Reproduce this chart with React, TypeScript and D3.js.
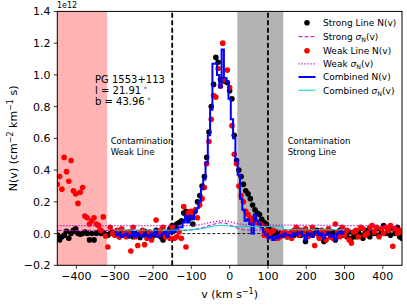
import React from "react";
import * as d3 from "d3";

// velocity grid (km/s) shared by both line measurements
const velocity = [
  -450, -444, -438, -432, -426, -420, -414, -408, -402, -396, -390, -384, -378, -372, -366,
  -360, -354, -348, -342, -336, -330, -324, -318, -312, -306, -300, -294, -288, -282, -276,
  -270, -264, -258, -252, -246, -240, -234, -228, -222, -216, -210, -204, -198, -192, -186,
  -180, -174, -168, -162, -156, -150, -144, -138, -132, -126, -120, -114, -108, -102, -96,
  -90, -84, -78, -72, -66, -60, -54, -48, -42, -36, -30, -24, -18, -12, -6,
  0, 6, 12, 18, 24, 30, 36, 42, 48, 54, 60, 66, 72, 78, 84,
  90, 96, 102, 108, 114, 120, 126, 132, 138, 144, 150, 156, 162, 168, 174,
  180, 186, 192, 198, 204, 210, 216, 222, 228, 234, 240, 246, 252, 258, 264,
  270, 276, 282, 288, 294, 300, 306, 312, 318, 324, 330, 336, 342, 348, 354,
  360, 366, 372, 378, 384, 390, 396, 402, 408, 414, 420, 426, 432, 438, 444,
  450,
];

// N(v) in units of 1e12
const strongN = [
  -0.01, -0.04, -0.02, -0.01, 0.015, -0.03, 0.0, 0.02, 0.03, 0.0, -0.005, 0.0, 0.01, 0.0, -0.04,
  0.0, -0.04, 0.0, 0.01, 0.0, 0.005, -0.005,
  -0.01, 0.0, 0.01, -0.005, 0.0, -0.02, 0.005, -0.01, 0.0, -0.015, 0.01, -0.02, 0.0, -0.01,
  -0.025, 0.0, 0.015, -0.01, 0.0, -0.03, -0.01, 0.02, 0.0, -0.02, -0.04, 0.0, 0.01, 0.03, 0.05,
  0.04, 0.06, 0.07, 0.08, 0.13, 0.14, 0.09, 0.1, 0.06, 0.14, 0.2, 0.24, 0.3, 0.36, 0.48,
  0.64, 0.8, 0.94, 1.11, 1.08, 0.97, 0.97, 0.96, 0.95, 0.9,
  0.85, 0.62, 0.46, 0.4, 0.36, 0.31, 0.27, 0.25, 0.22, 0.18, 0.15, 0.13, 0.12, 0.09, 0.07,
  0.06, 0.03,
  0.02, 0.0, 0.01, -0.02, 0.0, -0.01, 0.01, -0.02, 0.0, 0.01, -0.01, 0.0, 0.02, -0.01, 0.0,
  -0.05, 0.0, 0.01, -0.01, 0.0, 0.02, -0.02, 0.0, -0.05, 0.01, 0.0, -0.02, 0.01, -0.04, 0.0,
  0.02, -0.01, 0.0, -0.02, 0.01, -0.03, 0.0, -0.02, 0.01, -0.01, -0.03, 0.0, 0.02, -0.02, 0.01,
  0.0, 0.03, -0.01, 0.02, 0.05, 0.0, 0.02, -0.01, 0.03, 0.0, 0.04, -0.02, -0.03,
];

const weakN = [
  0.31, 0.36, 0.28, 0.48, 0.39, 0.33, 0.46, 0.27, 0.25, 0.19, 0.26, 0.29, 0.11, 0.1, 0.06,
  0.08, 0.1, 0.06, 0.05, 0.02, 0.105, -0.015,
  -0.085, 0.04, 0.0, -0.01, 0.02, -0.02, 0.03, 0.0, -0.02, 0.01, -0.11, 0.04, -0.02, -0.075,
  0.0, 0.02, -0.07, -0.03, 0.01, -0.04, 0.0, 0.085, -0.01, 0.02, 0.04, -0.02, 0.0, -0.03, 0.04,
  -0.03, -0.02, 0.01, -0.03, 0.17, -0.085, 0.13, 0.14, 0.12, 0.15, 0.1, 0.18, 0.22, 0.29, 0.44,
  0.58, 0.72, 0.87, 0.86, 1.04, 0.93, 1.2, 0.97, 1.03, 0.92,
  0.68, 0.5, 0.44, 0.3, 0.24, 0.2, 0.14, 0.12, 0.1, 0.08, 0.09, 0.07, 0.06, 0.05, -0.01,
  0.02, -0.02,
  0.01, 0.02, -0.03, -0.03, -0.02, 0.0, 0.01, -0.02, 0.0, -0.03,
  0.02, 0.04, -0.01, 0.02, 0.0, 0.03, -0.02, 0.01, 0.04, -0.075,
  0.0, -0.03, 0.02, 0.01, -0.04, 0.03, -0.02, -0.03, 0.06, 0.01,
  -0.02, 0.04, -0.01, 0.02, -0.04, -0.06, 0.01, 0.02, -0.02, 0.04,
  0.03, -0.01, 0.0, 0.04, 0.05, 0.01, 0.04, -0.02, 0.03, 0.0,
  0.04, 0.02, 0.05, -0.08, 0.03, 0.0, 0.02, 0.01,
];

// combined profile, velocity -300 .. 300
const combinedV = velocity.slice(25, 126);
const combinedN = [
  0.01, -0.01, 0.0, -0.02, -0.01, 0.0, -0.02, -0.01, 0.01, -0.02, 0.0, -0.01, -0.02, 0.0, -0.015,
  -0.025, 0.0, -0.01, 0.01, -0.02, -0.01, 0.0, 0.01, -0.02, 0.0, 0.02,
  0.01, 0.03, 0.04, 0.04, 0.07, 0.11, 0.07, 0.11, 0.09, 0.14, 0.16, 0.2, 0.28, 0.34, 0.45,
  0.62, 0.78, 1.07, 1.07, 1.0, 0.92, 1.16, 0.98, 0.96, 0.85,
  0.72, 0.6, 0.46, 0.37, 0.22, 0.15, 0.08, 0.09, 0.06, 0.0, 0.12, 0.08, 0.06, 0.04, 0.01,
  -0.01, -0.03,
  -0.02, -0.04, -0.02, -0.03, -0.01, -0.02, 0.0, -0.01, -0.01, -0.02,
  0.0, -0.01, 0.0, 0.01, -0.01, -0.04, -0.01, 0.0, -0.02, 0.0,
  0.01, -0.01, 0.0, -0.03, -0.01, 0.0, -0.02, -0.01, -0.04, 0.0,
  0.01, 0.0, 0.01,
];

// error curves
const strongSigmaV = [-450, -110, -80, -60, -40, -25, -10, 5, 20, 40, 450];
const strongSigma = [0.02, 0.02, 0.03, 0.045, 0.06, 0.068, 0.065, 0.05, 0.035, 0.022, 0.02];
const weakSigmaV = [-450, -110, -80, -60, -40, -25, -10, 5, 20, 40, 450];
const weakSigma = [0.05, 0.05, 0.055, 0.065, 0.075, 0.08, 0.08, 0.072, 0.062, 0.055, 0.048];
const combinedSigmaV = [-300, -110, -80, -60, -40, -25, -10, 5, 20, 140, 140, 300];
const combinedSigma = [0.022, 0.022, 0.028, 0.038, 0.048, 0.052, 0.05, 0.045, 0.045, 0.045, 0.024, 0.024];

const xTicks = [-400, -300, -200, -100, 0, 100, 200, 300, 400];
const yTicks = [-0.2, 0.0, 0.2, 0.4, 0.6, 0.8, 1.0, 1.2, 1.4];

const weakContam = [-450, -320];
const strongContam = [20, 140];
const integLimits = [-150, 100];

const FONT = "DejaVu Sans, sans-serif";

function Sigma({ size }: { size: number }) {
  return (
    <>
      <tspan fontStyle="italic">σ</tspan>
      <tspan fontSize={size * 0.7} dy={2}>N</tspan>
      <tspan dy={-2}>(v)</tspan>
    </>
  );
}

export default function App() {
  const x = d3.scaleLinear().domain([-450, 450]).range([57.3, 402]);
  const y = d3.scaleLinear().domain([-0.2, 1.4]).range([265.3, 11.4]);
  const [x0, x1] = x.range();
  const [y0, y1] = y.range();

  const line = (vs: number[], ns: number[], curve = d3.curveLinear) =>
    d3
      .line<number>()
      .x((_, i) => x(vs[i]))
      .y((d) => y(d))
      .curve(curve)(ns) || "";

  const fmt = (v: number) => d3.format(".1f")(v).replace("-", "\u2212");
  const fmtX = (v: number) => String(v).replace("-", "\u2212");

  const legendRows = [
    { kind: "dot", color: "black", label: "Strong Line N(v)" },
    { kind: "line", color: "#bf00bf", dash: "4,2", w: 1, label: "Strong", sigma: true },
    { kind: "dot", color: "red", label: "Weak Line N(v)" },
    { kind: "line", color: "#bf00bf", dash: "1.2,1.8", w: 1.3, label: "Weak", sigma: true },
    { kind: "line", color: "blue", dash: "", w: 2, label: "Combined N(v)" },
    { kind: "line", color: "#00cccc", dash: "", w: 1, label: "Combined", sigma: true },
  ];
  const legendY = [22.7, 36.7, 50.7, 63.8, 77, 90.2];

  return (
    <svg
      width={407}
      height={306}
      style={{ position: "absolute", left: 0, top: 0, background: "white" }}
      fontFamily={FONT}
    >
      <defs>
        <clipPath id="plot">
          <rect x={x0} y={y1} width={x1 - x0} height={y0 - y1} />
        </clipPath>
      </defs>

      {/* contamination bands */}
      <rect x={x(weakContam[0])} y={y1} width={x(weakContam[1]) - x(weakContam[0])} height={y0 - y1} fill="#ffb3b3" />
      <rect x={x(strongContam[0])} y={y1} width={x(strongContam[1]) - x(strongContam[0])} height={y0 - y1} fill="#b3b3b3" />

      <g clipPath="url(#plot)">
        <line x1={x0} x2={x1} y1={y(0)} y2={y(0)} stroke="black" strokeWidth={0.9} strokeDasharray="3,2" />
        {integLimits.map((v) => (
          <line key={v} x1={x(v)} x2={x(v)} y1={y0} y2={y1} stroke="black" strokeWidth={1.8} strokeDasharray="5,2.5" />
        ))}

        {strongN.map((d, i) => (
          <circle key={"s" + i} cx={x(velocity[i])} cy={y(d)} r={2.8} fill="black" />
        ))}
        <path d={line(strongSigmaV, strongSigma)} fill="none" stroke="#bf00bf" strokeWidth={1} strokeDasharray="4,2" />
        {weakN.map((d, i) => (
          <circle key={"w" + i} cx={x(velocity[i])} cy={y(d)} r={2.8} fill="red" />
        ))}
        <path d={line(weakSigmaV, weakSigma)} fill="none" stroke="#bf00bf" strokeWidth={1.3} strokeDasharray="1.2,1.8" />
        <path d={line(combinedV, combinedN, d3.curveStep)} fill="none" stroke="blue" strokeWidth={2} />
        <path d={line(combinedSigmaV, combinedSigma)} fill="none" stroke="#00cccc" strokeWidth={1} />
      </g>

      {/* frame */}
      <rect x={x0} y={y1} width={x1 - x0} height={y0 - y1} fill="none" stroke="black" strokeWidth={1} />

      {/* x axis */}
      {xTicks.map((t) => (
        <g key={t}>
          <line x1={x(t)} x2={x(t)} y1={y0} y2={y0 + 3.5} stroke="black" strokeWidth={0.8} />
          <text x={x(t)} y={280} fontSize={11} textAnchor="middle">{fmtX(t)}</text>
        </g>
      ))}
      <text x={(x0 + x1) / 2} y={298} fontSize={11} textAnchor="middle">
        v (km s<tspan fontSize={8} dy={-4}>−1</tspan><tspan dy={4}>)</tspan>
      </text>

      {/* y axis */}
      {yTicks.map((t) => (
        <g key={t}>
          <line x1={x0 - 3.5} x2={x0} y1={y(t)} y2={y(t)} stroke="black" strokeWidth={0.8} />
          <text x={50.5} y={y(t) + 4} fontSize={11} textAnchor="end">{fmt(t)}</text>
        </g>
      ))}
      <text x={57} y={8} fontSize={8}>1e12</text>
      <text transform={`translate(17,${(y0 + y1) / 2}) rotate(-90)`} fontSize={11} textAnchor="middle">
        N(v) (cm<tspan fontSize={8} dy={-4}>−2</tspan>
        <tspan dy={4}> km</tspan>
        <tspan fontSize={8} dy={-4}>−1</tspan>
        <tspan dy={4}> s)</tspan>
      </text>

      {/* annotations */}
      <g fontSize={10}>
        <text x={95} y={83}>PG 1553+113</text>
        <text x={95} y={94}>l = 21.91<tspan fontSize={7} dx={2} dy={-4}>∘</tspan></text>
        <text x={95} y={105}>b = 43.96<tspan fontSize={7} dx={2} dy={-4}>∘</tspan></text>
      </g>
      <g fontSize={8.5}>
        <text x={110.7} y={144}>Contamination</text>
        <text x={110.7} y={155}>Weak Line</text>
        <text x={287.7} y={144}>Contamination</text>
        <text x={287.7} y={155}>Strong Line</text>
      </g>

      {/* legend */}
      <g fontSize={9}>
        {legendRows.map((r, i) => (
          <g key={i}>
            {r.kind === "dot" ? (
              <circle cx={307} cy={legendY[i]} r={2.8} fill={r.color} />
            ) : (
              <line
                x1={298.5}
                x2={315.5}
                y1={legendY[i]}
                y2={legendY[i]}
                stroke={r.color}
                strokeWidth={r.w}
                strokeDasharray={r.dash || undefined}
              />
            )}
            <text x={323} y={legendY[i] + 3.3}>
              {r.sigma ? (
                <>
                  {r.label} <Sigma size={9} />
                </>
              ) : (
                r.label
              )}
            </text>
          </g>
        ))}
      </g>
    </svg>
  );
}
